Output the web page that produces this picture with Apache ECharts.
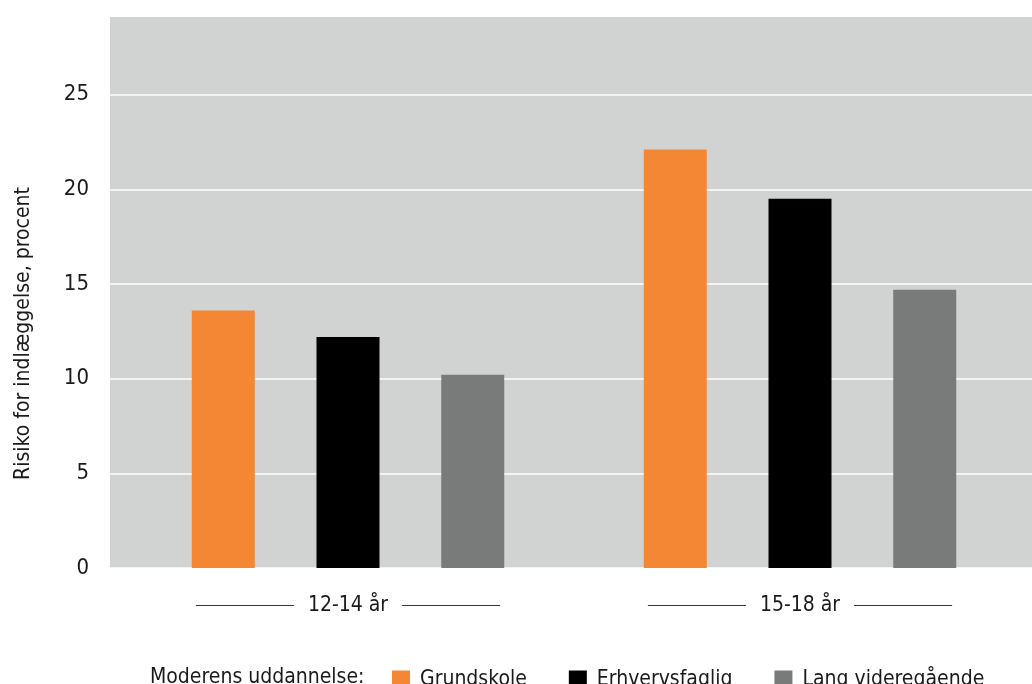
<!DOCTYPE html>
<html>
<head>
<meta charset="utf-8">
<script src="https://cdn.jsdelivr.net/npm/echarts@6/dist/echarts.min.js"></script>
<style>
  html, body { margin: 0; padding: 0; background: #ffffff; }
  #chart { width: 1032px; height: 684px; }
</style>
</head>
<body>
<div id="chart"></div>
<script>
// Age groups along the x axis
const categories = ['12-14 år', '15-18 år'];

// Risk of hospitalisation (percent) by mother's education
const grundskole = [13.6, 22.1];
const erhvervsfaglig = [12.2, 19.5];
const langVideregaaende = [10.2, 14.7];

const seriesNames = ['Grundskole', 'Erhvervsfaglig', 'Lang videregående'];
const seriesColors = ['#f38733', '#000000', '#797b7b'];
const legendTitle = 'Moderens uddannelse:';
const yAxisTitle = 'Risiko for indlæggelse, procent';

const FONT = '"DejaVu Sans Condensed", "Liberation Sans Narrow", "Liberation Sans", sans-serif';
const TEXT = '#1a1a1a';
const Y_MAX = 29.1;

const chart = echarts.init(document.getElementById('chart'), null, { renderer: 'canvas' });

const seriesData = [grundskole, erhvervsfaglig, langVideregaaende];

chart.setOption({
  animation: false,
  textStyle: { fontFamily: FONT, color: TEXT },
  title: {
    text: legendTitle,
    left: 145,
    top: 662,
    textStyle: { fontFamily: FONT, fontSize: 21, fontWeight: 'normal', color: TEXT }
  },
  legend: {
    left: 387,
    top: 664,
    itemWidth: 18,
    itemHeight: 18,
    itemGap: 42,
    icon: 'rect',
    data: seriesNames,
    textStyle: { fontFamily: FONT, fontSize: 21, color: TEXT, padding: [0, 0, 0, 5] }
  },
  grid: [
    // background panel with the value scale and gridlines
    {
      left: 110, right: 0, top: 17, bottom: 116,
      show: true, backgroundColor: '#d1d3d2', borderWidth: 0
    },
    // panel holding the bars
    {
      left: 122, right: 6, top: 17, bottom: 116,
      show: false
    }
  ],
  xAxis: [
    {
      gridIndex: 0,
      type: 'category',
      data: categories,
      show: false
    },
    {
      gridIndex: 1,
      type: 'category',
      data: categories,
      axisLine: { show: false },
      axisTick: { show: false },
      axisLabel: {
        margin: 27,
        formatter: function (v) { return '{l|}{t|' + v + '}{l|}'; },
        rich: {
          l: { width: 98, height: 1, backgroundColor: '#3a3a3a' },
          t: { fontFamily: FONT, fontSize: 21, color: TEXT, padding: [0, 14] }
        }
      }
    }
  ],
  yAxis: [
    {
      gridIndex: 0,
      type: 'value',
      min: 0,
      max: Y_MAX,
      interval: 5,
      name: yAxisTitle,
      nameLocation: 'middle',
      nameGap: 76,
      nameTextStyle: { fontFamily: FONT, fontSize: 21, color: TEXT, padding: [0, 82, 0, 0] },
      axisLine: { show: false },
      axisTick: { show: false },
      axisLabel: {
        margin: 21,
        showMaxLabel: false,
        fontFamily: FONT,
        fontSize: 22,
        color: TEXT
      },
      splitLine: {
        show: true,
        showMaxLine: false,
        lineStyle: { color: '#ffffff', width: 1.5 }
      }
    },
    {
      gridIndex: 1,
      type: 'value',
      min: 0,
      max: Y_MAX,
      interval: 5,
      show: false,
      splitLine: { show: false }
    }
  ],
  series: seriesNames.map(function (name, i) {
    return {
      name: name,
      type: 'bar',
      xAxisIndex: 1,
      yAxisIndex: 1,
      data: seriesData[i],
      barWidth: 63,
      barGap: '98%',
      itemStyle: { color: seriesColors[i] }
    };
  })
});
</script>
</body>
</html>
